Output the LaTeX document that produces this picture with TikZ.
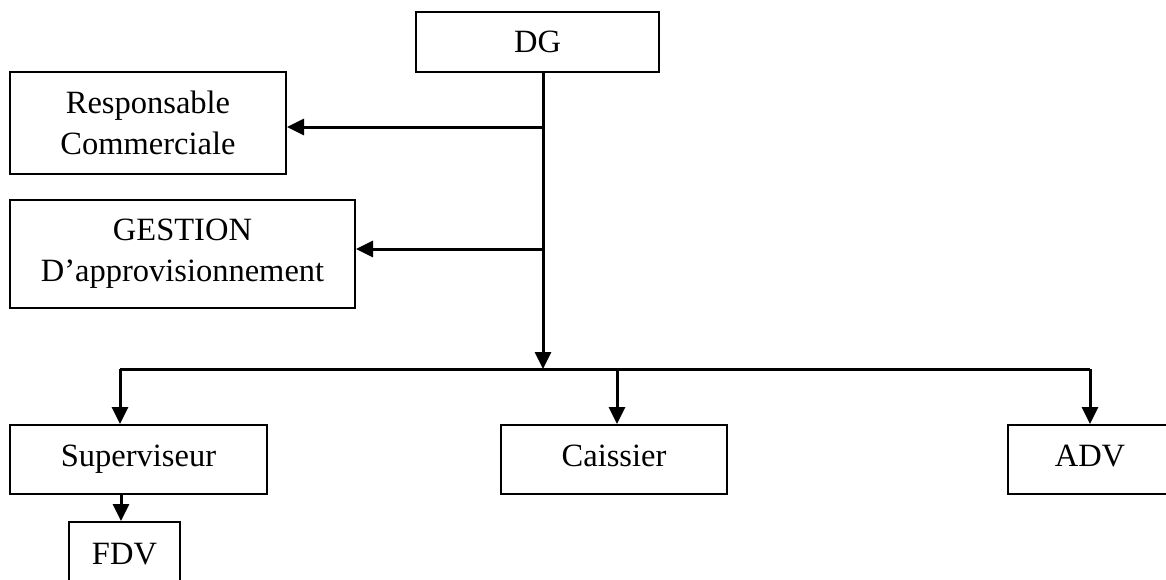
\documentclass[tikz,border=0pt]{standalone}
\usepackage{fontspec}
\setmainfont{Liberation Serif}
\usetikzlibrary{arrows.meta}
\begin{document}
\begin{tikzpicture}[x=1pt,y=-1pt,
  box/.style={draw,line width=2pt,inner sep=0pt,align=center,
    font=\fontsize{32.5}{41}\selectfont},
  rowbox/.style={box,minimum height=69,text height=22pt,text depth=8pt},
  link/.style={line width=3pt},
  arr/.style={link,-{Triangle[length=17pt,width=16pt]}}]
\useasboundingbox (0,0) rectangle (1166,579);
\clip (0,0) rectangle (1166,579);

% boxes of the chart
\node[box,minimum width=243,minimum height=60] (dg) at (537.5,42) {DG};
\node[box,minimum width=276,minimum height=102] (resp) at (148,123) {Responsable\\Commerciale};
\node[box,minimum width=345,minimum height=108] (gest) at (182.5,254) {GESTION\\D’approvisionnement};
\node[rowbox,minimum width=257] (sup) at (138.5,459.5) {Superviseur};
\node[rowbox,minimum width=226] (cais) at (614,459.5) {Caissier};
\node[rowbox,minimum width=164] (adv) at (1090,459.5) {ADV};
\node[box,minimum width=111,minimum height=69] (fdv) at (124.5,556.5) {\raisebox{5.5pt}{FDV}};

% trunk from the director down to the bus
\coordinate (bus) at (543,369);
\coordinate (top) at (543,72);
\draw[arr] (top) -- (bus);

% side branches
\draw[arr] (543,127) -- (resp.east |- 0,127);
\draw[arr] (543,249) -- (gest.east |- 0,249);

% bus and its drops
\coordinate (t1) at (120,369);
\coordinate (t2) at (617,369);
\coordinate (t3) at (1090,369);
\draw[link] (t1) -- (t3);
\draw[arr] (t1) -- (t1 |- sup.north);
\draw[arr] (t2) -- (t2 |- cais.north);
\draw[arr] (t3) -- (t3 |- adv.north);

% supervisor to sales force
\coordinate (s1) at (121,494);
\draw[arr] (s1) -- (s1 |- fdv.north);
\end{tikzpicture}
\end{document}
